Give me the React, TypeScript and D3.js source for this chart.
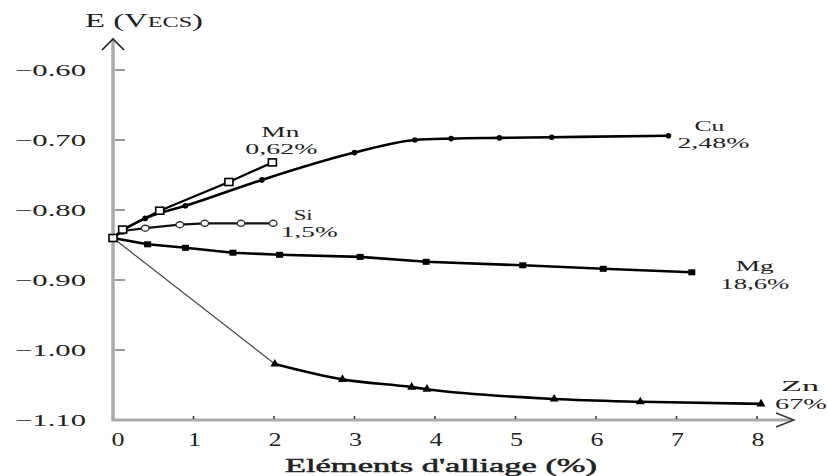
import React from 'react';
import * as d3 from 'd3';

// values: [alloying element %, E in V/ECS]
const cuData: [number, number][] = [
  [0, -0.84], [0.1, -0.831], [0.4, -0.812], [0.9, -0.794], [1.85, -0.757],
  [3, -0.718], [3.75, -0.7], [4.2, -0.698], [4.8, -0.697], [5.45, -0.696], [6.9, -0.694],
];
const mnData: [number, number][] = [
  [0, -0.84], [0.12, -0.828], [0.58, -0.801], [1.44, -0.76], [1.98, -0.732],
];
const siData: [number, number][] = [
  [0, -0.84], [0.12, -0.83], [0.4, -0.826], [0.83, -0.821], [1.14, -0.819], [1.59, -0.819], [1.99, -0.819],
];
const mgData: [number, number][] = [
  [0, -0.84], [0.43, -0.849], [0.9, -0.854], [1.49, -0.861], [2.07, -0.864], [3.07, -0.867],
  [3.89, -0.874], [5.09, -0.879], [6.09, -0.884], [7.19, -0.889],
];
const znData: [number, number][] = [
  [0, -0.84], [2.01, -1.02], [2.85, -1.042], [3.71, -1.053], [3.9, -1.056],
  [5.48, -1.07], [6.55, -1.074], [8.05, -1.077],
];

const xTicks = [0, 1, 2, 3, 4, 5, 6, 7, 8];
const yTicks = [-0.6, -0.7, -0.8, -0.9, -1.0, -1.1];

const seriesNames = ['Cu', 'Mn', 'Si', 'Mg', 'Zn'];
const seriesMax = ['2,48%', '0,62%', '1,5%', '18,6%', '67%'];

const xLabel = "Eléments d'alliage (%)";

const W = 828;
const H = 476;
const FONT = "'Liberation Serif', 'Times New Roman', serif";

export default function App() {
  const x = d3.scaleLinear().domain([0, 8]).range([113, 757]);
  const y = d3.scaleLinear().domain([-1.1, -0.6]).range([420, 70]);

  const straight = d3.line<[number, number]>().x((d) => x(d[0])).y((d) => y(d[1]));
  const smooth = d3
    .line<[number, number]>()
    .x((d) => x(d[0]))
    .y((d) => y(d[1]))
    .curve(d3.curveMonotoneX);

  const fmt = d3.format('.2f');

  // label placement relative to the last point of each series (pixel offsets)
  const series = [cuData, mnData, siData, mgData, znData];
  const labelLayout = [
    { dx1: 41, dy1: -5, w1: 30, dx2: 45, dy2: 12, w2: 72 },
    { dx1: 8, dy1: -25, w1: 38, dx2: 9, dy2: -8, w2: 72 },
    { dx1: 30, dy1: -3, w1: 19, dx2: 36, dy2: 14, w2: 57 },
    { dx1: 63, dy1: -1, w1: 38, dx2: 63, dy2: 17, w2: 69 },
    { dx1: 39, dy1: -13, w1: 38, dx2: 40, dy2: 5, w2: 52 },
  ];

  return (
    <svg
      width={W}
      height={H}
      style={{ position: 'absolute', left: 0, top: 0, background: '#fff' }}
      fontFamily={FONT}
    >
      <rect width={W} height={H} fill="#fff" />

      {/* axes */}
      <line x1={x(0)} x2={x(0)} y1={y(-1.1) + 1} y2={40} stroke="#aaa" strokeWidth={3.5} />
      <line x1={x(0) - 1} x2={792} y1={y(-1.1)} y2={y(-1.1)} stroke="#aaa" strokeWidth={3} />
      <polyline
        points={`${x(0) - 11},50 ${x(0)},39 ${x(0) + 11},50`}
        fill="none"
        stroke="#222"
        strokeWidth={1.6}
      />
      <polyline points="776,413 794,420 776,427" fill="none" stroke="#333" strokeWidth={1.4} />

      {yTicks.slice(0, 5).map((t) => (
        <line key={t} x1={x(0) + 2} x2={x(0) + 12} y1={y(t)} y2={y(t)} stroke="#777" strokeWidth={1.5} />
      ))}
      {xTicks.slice(1).map((t) => (
        <line key={t} x1={x(t)} x2={x(t)} y1={y(-1.1) - 4} y2={y(-1.1) - 1} stroke="#333" strokeWidth={1.5} />
      ))}

      {yTicks.map((t) => (
        <text
          key={t}
          x={15}
          y={y(t) + 6}
          fontSize={17}
          fill="#222"
          textLength={71}
          lengthAdjust="spacingAndGlyphs"
        >
          {fmt(t)}
        </text>
      ))}
      {xTicks.map((t) => (
        <text
          key={t}
          x={x(t) + (t === 0 ? 5 : 1)}
          y={446}
          fontSize={18}
          fill="#222"
          textAnchor="middle"
          textLength={13}
          lengthAdjust="spacingAndGlyphs"
        >
          {t}
        </text>
      ))}

      <text
        x={285}
        y={472}
        fontSize={19}
        fill="#222"
        stroke="#222"
        strokeWidth={0.5}
        textLength={312}
        lengthAdjust="spacingAndGlyphs"
      >
        {xLabel}
      </text>
      <text x={85} y={27} fontSize={19} fill="#222" textLength={118} lengthAdjust="spacingAndGlyphs">
        E (V<tspan fontSize={14}>ECS</tspan>)
      </text>

      {/* Zn: thin initial segment, then thick curve */}
      <path d={straight(znData.slice(0, 2)) || ''} fill="none" stroke="#444" strokeWidth={1.2} />
      <path d={smooth(znData.slice(1)) || ''} fill="none" stroke="#000" strokeWidth={2.6} />
      {znData.slice(1).map((d, i) => (
        <path
          key={i}
          d={d3.symbol(d3.symbolTriangle, 34)() || ''}
          transform={`translate(${x(d[0])},${y(d[1])})`}
          fill="#000"
        />
      ))}

      {/* Mg */}
      <path d={straight(mgData) || ''} fill="none" stroke="#000" strokeWidth={2.6} />
      {mgData.slice(1).map((d, i) => (
        <rect key={i} x={x(d[0]) - 3.5} y={y(d[1]) - 3} width={7} height={6} fill="#000" />
      ))}

      {/* Cu */}
      <path d={smooth(cuData) || ''} fill="none" stroke="#000" strokeWidth={2.6} />
      {cuData.slice(1).map((d, i) => (
        <circle key={i} cx={x(d[0])} cy={y(d[1])} r={2.8} fill="#000" />
      ))}

      {/* Si */}
      <path d={straight(siData) || ''} fill="none" stroke="#111" strokeWidth={2.2} />
      {siData.slice(1).map((d, i) => (
        <ellipse key={i} cx={x(d[0])} cy={y(d[1])} rx={3.8} ry={3} fill="#fff" stroke="#333" strokeWidth={1.4} />
      ))}

      {/* Mn */}
      <path d={straight(mnData) || ''} fill="none" stroke="#000" strokeWidth={2.2} />
      {mnData.map((d, i) => (
        <rect
          key={i}
          x={x(d[0]) - 4}
          y={y(d[1]) - 3.5}
          width={8}
          height={7}
          fill="#fff"
          stroke="#000"
          strokeWidth={1.6}
        />
      ))}

      {/* series annotations */}
      {series.map((s, i) => {
        const last = s[s.length - 1];
        const px = x(last[0]);
        const py = y(last[1]);
        const l = labelLayout[i];
        return (
          <g key={seriesNames[i]} fontSize={15} fill="#222" textAnchor="middle">
            <text x={px + l.dx1} y={py + l.dy1} textLength={l.w1} lengthAdjust="spacingAndGlyphs">
              {seriesNames[i]}
            </text>
            <text x={px + l.dx2} y={py + l.dy2} textLength={l.w2} lengthAdjust="spacingAndGlyphs">
              {seriesMax[i]}
            </text>
          </g>
        );
      })}
    </svg>
  );
}
